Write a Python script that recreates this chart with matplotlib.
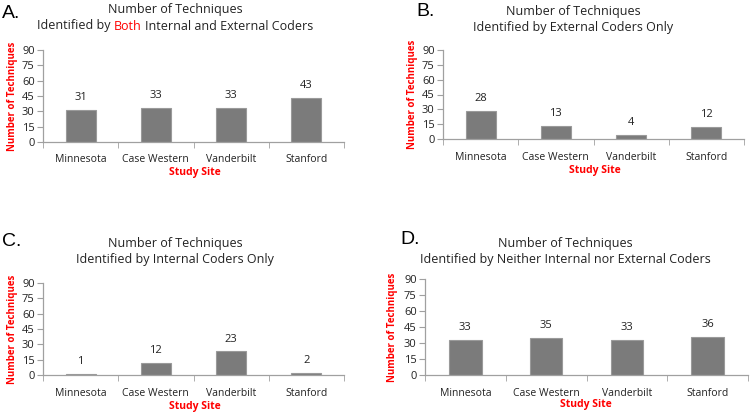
import matplotlib.pyplot as plt

plt.rcParams['font.family'] = ['Open Sans', 'DejaVu Sans']

sites = ['Minnesota', 'Case Western', 'Vanderbilt', 'Stanford']
both = [31, 33, 33, 43]
external_only = [28, 13, 4, 12]
internal_only = [1, 12, 23, 2]
neither = [33, 35, 33, 36]
yticks = [0, 15, 30, 45, 60, 75, 90]

W, H = 750, 413
fig = plt.figure(figsize=(W / 100, H / 100), dpi=100)


def px(x, y):
    return x / W, 1 - y / H


def text_width(s, **kw):
    t = fig.text(0.1, 0.5, s, **kw)
    w = t.get_window_extent(fig.canvas.get_renderer()).width
    t.remove()
    return w


def panel(box, values, label, label_xy, title_xy, title2, ylab_x, xlab_xy):
    left, top, right, bottom = box
    ax = fig.add_axes([left / W, 1 - bottom / H, (right - left) / W, (bottom - top) / H])
    x = range(len(values))
    ax.bar(x, values, width=0.4, color='#7b7b7b', edgecolor='#9a9a9a', linewidth=0.8)
    for xi, v in zip(x, values):
        ax.annotate(str(v), (xi, v), xytext=(0, 5), textcoords='offset points',
                    ha='center', va='bottom', fontsize=8, color='#222222')
    ax.set_xlim(-0.5, len(values) - 0.5)
    ax.set_ylim(0, 90)
    ax.set_yticks(yticks)
    ax.set_xticks(x)
    ax.set_xticklabels(sites, fontsize=7.5, color='#222222')
    ax.set_xticks([i + 0.5 for i in range(-1, len(values))], minor=True)
    ax.tick_params(axis='x', which='major', length=0, pad=9)
    ax.tick_params(axis='x', which='minor', length=4, color='#a0a0a0', direction='out')
    ax.tick_params(axis='y', length=4, color='#a0a0a0', labelsize=8, labelcolor='#222222', pad=2)
    for s in ['top', 'right']:
        ax.spines[s].set_visible(False)
    for s in ['left', 'bottom']:
        ax.spines[s].set_color('#a0a0a0')
        ax.spines[s].set_linewidth(0.9)

    fig.text(*px(*label_xy), label, fontsize=14, ha='left', va='center',
             family=['Liberation Sans', 'DejaVu Sans'])
    tx, ty = title_xy
    tkw = dict(fontsize=9, color='#222222')
    fig.text(*px(tx, ty), 'Number of Techniques', ha='center', va='center', **tkw)
    if isinstance(title2, str):
        fig.text(*px(tx, ty + 16), title2, ha='center', va='center', **tkw)
    else:
        fig.canvas.draw()
        words = [txt for txt, _ in title2]
        widths = [text_width(w, **tkw) for w in words]
        gap = (text_width(words[0] + ' ' + words[1], **tkw) - widths[0] - widths[1]) * 1.15
        start = tx - (sum(widths) + gap * (len(widths) - 1)) / 2
        for (txt, col), w in zip(title2, widths):
            fig.text(start / W, 1 - (ty + 16) / H, txt, fontsize=9, color=col,
                     ha='left', va='center')
            start += w + gap
    fig.text(*px(ylab_x, (top + bottom) / 2), 'Number of Techniques', rotation=90,
             fontsize=7, color='red', weight='bold', ha='center', va='center')
    fig.text(*px(*xlab_xy), 'Study Site', fontsize=7.5, color='red', weight='bold',
             ha='center', va='center')
    return ax


panel((43, 50, 344, 142), both, 'A.', (2, 14), (175, 10),
      [('Identified by', '#222222'), ('Both', 'red'), ('Internal and External Coders', '#222222')],
      13, (195, 172))
panel((443, 50, 744, 139), external_only, 'B.', (416, 12), (573, 11),
      'Identified by External Coders Only', 412, (595, 170))
panel((43, 283, 344, 375), internal_only, 'C.', (2, 241), (175, 243),
      'Identified by Internal Coders Only', 13, (195, 406))
panel((425, 279, 748, 375), neither, 'D.', (400, 240), (565, 244),
      'Identified by Neither Internal nor External Coders', 393, (586, 405))

fig.savefig('out.png', dpi=100)
